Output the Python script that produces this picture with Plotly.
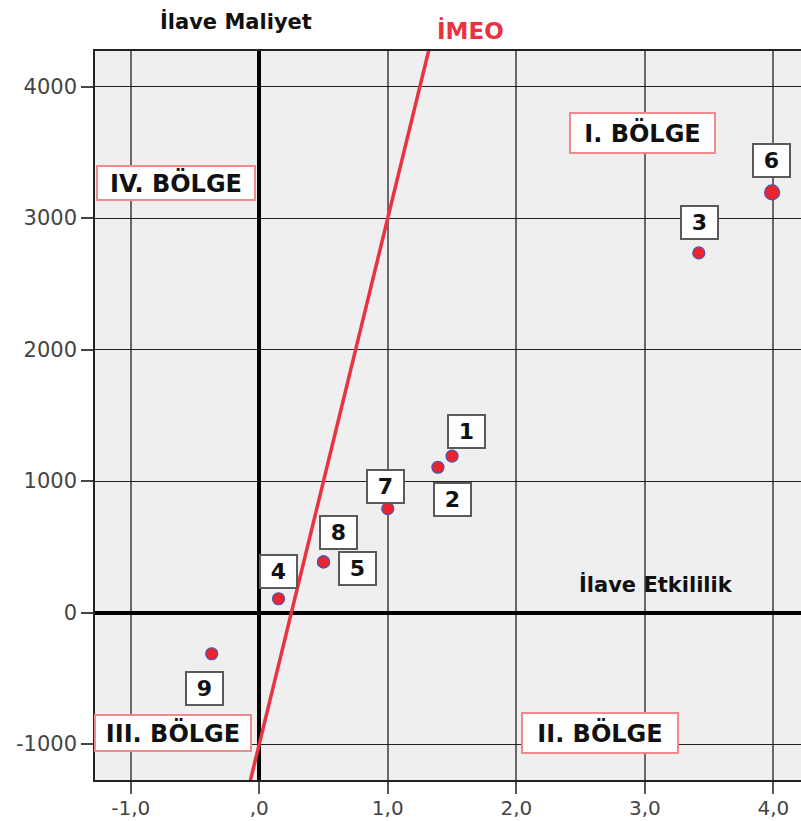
import plotly.graph_objects as go

# ---- data ----
ids = ["1", "2", "3", "4", "5", "6", "7", "8", "9"]
etkililik = [1.50, 1.39, 3.42, 0.15, 0.50, 3.99, 1.00, 0.50, -0.37]
maliyet = [1190, 1105, 2735, 105, 385, 3195, 790, 385, -313]

imeo_x = [-0.075, 1.32]
imeo_y = [-1300, 4280]

x_tickvals = [-1, 0, 1, 2, 3, 4]
x_ticktext = ["-1,0", ",0", "1,0", "2,0", "3,0", "4,0"]
y_tickvals = [-1000, 0, 1000, 2000, 3000, 4000]
y_ticktext = ["-1000", "0", "1000", "2000", "3000", "4000"]

regions = ["I. BÖLGE", "II. BÖLGE", "III. BÖLGE", "IV. BÖLGE"]
region_x = [2.98, 2.65, -0.67, -0.65]
region_y = [3647, -913, -913, 3268]

# ---- styles / placement (not data) ----
label_shift = {"1": (14, 25), "2": (15, -32), "3": (1, 30), "4": (0, 27),
               "5": (34, -7), "6": (-1, 32), "7": (-2, 22), "8": (15, 29),
               "9": (-7, -35)}
marker_sizes = [12, 12, 12, 12, 12, 15, 12, 12, 12]
region_box = {"I. BÖLGE": (141, 36), "II. BÖLGE": (152, 36),
              "III. BÖLGE": (152, 32), "IV. BÖLGE": (154, 30)}

RED = "#ea2530"
FONT = "DejaVu Sans"

fig = go.Figure()

fig.add_trace(go.Scatter(
    x=imeo_x, y=imeo_y, mode="lines",
    line=dict(color="#ea3340", width=3.5), hoverinfo="skip", showlegend=False,
    cliponaxis=True,
))

fig.add_trace(go.Scatter(
    x=etkililik, y=maliyet, mode="markers",
    marker=dict(size=marker_sizes, color=RED, opacity=1,
                line=dict(color="#5050b0", width=1.2)),
    text=ids, showlegend=False,
))

annotations = []
for i, lab in enumerate(ids):
    dx, dy = label_shift[lab]
    annotations.append(dict(
        x=etkililik[i], y=maliyet[i], xref="x", yref="y", text="<b>%s</b>" % lab,
        showarrow=False, xshift=dx, yshift=dy,
        font=dict(family=FONT, size=22, color="#111"),
        bgcolor="white", bordercolor="#5a5a5a", borderwidth=2, borderpad=1,
        width=33, height=29,
    ))

for r, rx, ry in zip(regions, region_x, region_y):
    w, h = region_box[r]
    annotations.append(dict(
        x=rx, y=ry, xref="x", yref="y", text="<b>%s</b>" % r, showarrow=False,
        font=dict(family=FONT, size=24, color="#111"),
        bgcolor="white", bordercolor="#f08a8e", borderwidth=2, borderpad=1,
        width=w, height=h,
    ))

annotations.append(dict(
    x=236, y=22, xref="paper", yref="paper", text="<b>İlave Maliyet</b>", showarrow=False,
    xanchor="center", yanchor="middle",
    font=dict(family=FONT, size=21, color="#111"),
))
annotations.append(dict(
    x=3.087, y=210, xref="x", yref="y", text="<b>İlave Etkililik</b>", showarrow=False,
    font=dict(family=FONT, size=21, color="#111"),
))
annotations.append(dict(
    x=470, y=30, xref="paper", yref="paper", text="<b>İMEO</b>", showarrow=False,
    xanchor="center", yanchor="middle",
    font=dict(family=FONT, size=23, color="#ea3340"),
))

# convert pixel positions of the outside titles to paper coords
L, R, T, B = 95, 0, 51, 41
W, H = 801, 821
pw, ph = W - L - R, H - T - B
for a in annotations:
    if a["xref"] == "paper":
        a["x"] = (a["x"] - L) / pw
        a["y"] = (H - B - a["y"]) / ph

fig.update_layout(
    width=W, height=H,
    margin=dict(l=L, r=R, t=T, b=B, autoexpand=False),
    paper_bgcolor="white", plot_bgcolor="#efefef",
    annotations=annotations,
    xaxis=dict(
        range=[-1.278, 4.215], tickvals=x_tickvals, ticktext=x_ticktext,
        showgrid=True, gridcolor="#6a6a6a", gridwidth=2,
        zeroline=True, zerolinecolor="#000", zerolinewidth=3.5,
        showline=True, linecolor="#222", linewidth=1.5, mirror=True,
        ticks="outside", ticklen=12, tickwidth=2, tickcolor="#555",
        ticklabelstandoff=-3,
        tickfont=dict(family=FONT, size=20, color="#444"),
    ),
    yaxis=dict(
        range=[-1273, 4270], tickvals=y_tickvals, ticktext=y_ticktext,
        showgrid=True, gridcolor="#222", gridwidth=1.2,
        zeroline=True, zerolinecolor="#000", zerolinewidth=3.5,
        showline=True, linecolor="#222", linewidth=1.5, mirror=True,
        ticks="outside", ticklen=12, tickwidth=1.5, tickcolor="#444",
        tickfont=dict(family=FONT, size=21, color="#444"),
    ),
)

fig.write_html(
    "out.html",
    config={"displayModeBar": False},
    post_script="document.body.style.margin='0';document.body.style.overflow='hidden';",
)
